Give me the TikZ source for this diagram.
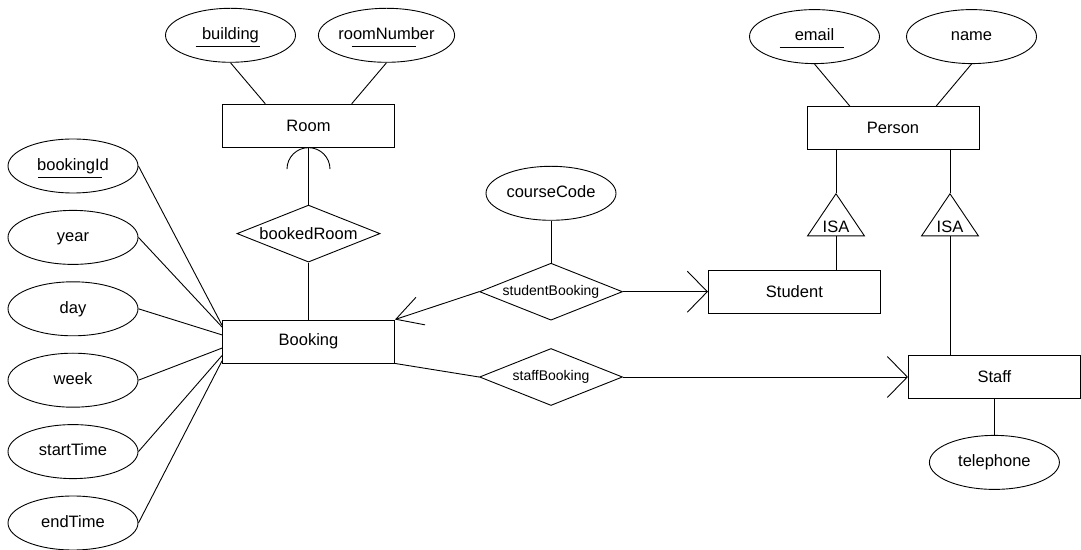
\documentclass[tikz,border=0pt]{standalone}
\usepackage{fontspec}
\setmainfont{Liberation Sans}
\usetikzlibrary{shapes.geometric, arrows.meta, positioning, calc}

\begin{document}
\begin{tikzpicture}[
    x=1pt, y=1pt,
    font=\fontsize{16.5}{19}\selectfont,
    line width=0.9pt,
    entity/.style={rectangle, draw, minimum width=172pt, minimum height=43pt},
    attrib/.style={ellipse, draw, inner sep=0pt, text height=12pt, text depth=3.5pt, minimum width=130pt, minimum height=54pt},
    rel/.style={diamond, draw, aspect=2.5, inner sep=0pt, minimum width=143pt, minimum height=57pt},
    smallrel/.style={rel, font=\fontsize{14}{16}\selectfont},
    isa/.style={isosceles triangle, shape border rotate=90, isosceles triangle apex angle=68, draw, inner sep=3.1pt},
    keyarrow/.style={-{Straight Barb[length=20pt, width=41pt]}},
    keyarrowlong/.style={-{Straight Barb[length=26pt, width=29pt]}},
]
    \useasboundingbox (0,0) rectangle (1081,549);

    % Booking and Room
    \node[entity] (booking) at (308.5,207.5) {Booking};
    \node[rel, above=57pt of booking] (bookedRoom) {bookedRoom};
    \node[entity, above=57pt of bookedRoom] (room) {Room};
    \node[attrib, above=41pt of room, xshift=-78pt] (building) {building};
    \node[attrib, above=41pt of room, xshift=78pt] (roomNumber) {roomNumber};

    % Booking attributes
    \node[attrib] (bookingId) at (73,383) {bookingId};
    \node[attrib, below=16.5pt of bookingId] (year) {year};
    \node[attrib, below=16.5pt of year] (day) {day};
    \node[attrib, below=16.5pt of day] (week) {week};
    \node[attrib, below=16.5pt of week] (startTime) {startTime};
    \node[attrib, below=16.5pt of startTime] (endTime) {endTime};

    % Relationships
    \node[smallrel] (studentBooking) at (551,257.3) {studentBooking};
    \node[smallrel] (staffBooking) at (551,172) {staffBooking};
    \node[attrib, above=42pt of studentBooking] (courseCode) {courseCode};

    % Person hierarchy
    \node[entity, right=85pt of studentBooking] (student) {Student};
    \node[entity, right=285pt of staffBooking] (staff) {Staff};
    \node[attrib, below=36pt of staff] (telephone) {telephone};
    \node[entity] (person) at (893,421) {Person};
    \node[attrib, above=42pt of person, xshift=-78.5pt] (email) {email};
    \node[attrib, above=42pt of person, xshift=78.5pt] (name) {name};
    \node[isa, below=43pt of person, xshift=-57pt] (isaStudent) {ISA};
    \node[isa, below=43pt of person, xshift=57pt] (isaStaff) {ISA};

    % key underlines
    \foreach \k in {bookingId, building, roomNumber, email}
        \draw[line width=0.7pt] ([xshift=-35pt, yshift=-11pt]\k.center) -- ++(64,0);

    \foreach \a/\e/\f in {building/room/0.25, roomNumber/room/0.75, email/person/0.25, name/person/0.75}
        \draw (\a.south) -- ($(\e.north west)!\f!(\e.north east)$);
    \foreach \a/\f in {bookingId/0.13, year/0.17, day/0.35, week/0.65, startTime/0.82, endTime/0.94}
        \draw (\a.east) -- ($(booking.north west)!\f!(booking.south west)$);

    \draw (bookedRoom.north) -- (room.south);
    \draw ([xshift=-21.5pt, yshift=-21.5pt]room.south) arc[start angle=180, end angle=0, radius=21.5pt];
    \draw (bookedRoom.south) -- (booking.north);
    \draw[keyarrowlong] (studentBooking.west) -- (booking.north east);
    \draw[keyarrow] (studentBooking.east) -- (student.west);
    \draw (staffBooking.west) -- (booking.south east);
    \draw[keyarrow] (staffBooking.east) -- (staff.west);
    \draw (courseCode.south) -- (studentBooking.north);
    \draw (staff.south) -- (telephone.north);

    \draw (isaStudent.apex |- person.south) -- (isaStudent.apex);
    \draw (isaStudent.lower side) -- (isaStudent.lower side |- student.north);
    \draw (isaStaff.apex |- person.south) -- (isaStaff.apex);
    \draw (isaStaff.lower side) -- (isaStaff.lower side |- staff.north);
\end{tikzpicture}
\end{document}
